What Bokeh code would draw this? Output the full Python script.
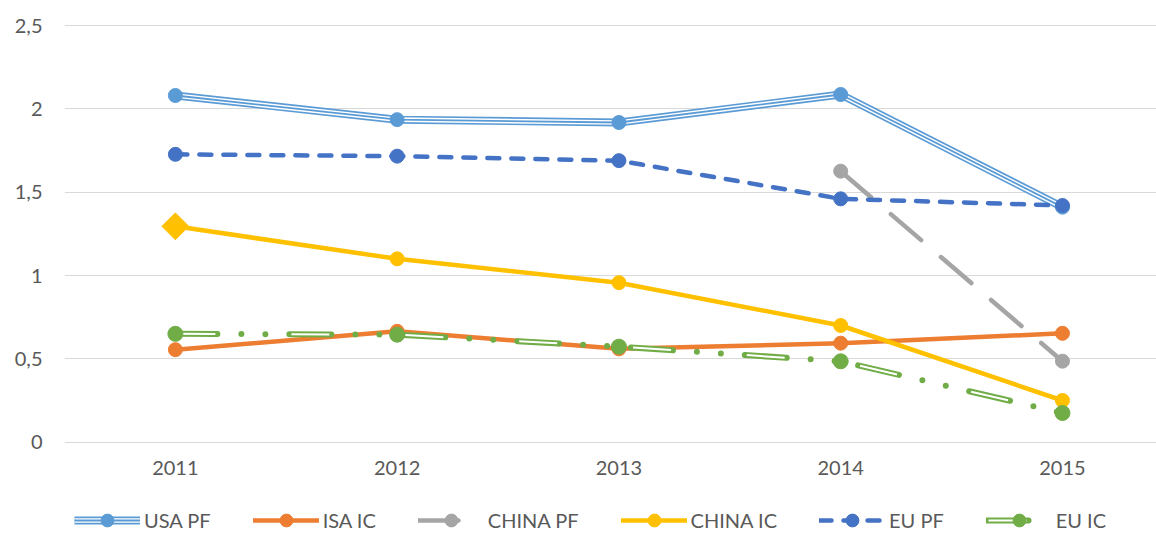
import numpy as np
from bokeh.plotting import figure
from bokeh.layouts import column
from bokeh.models import (ColumnDataSource, Range1d, CustomJSTickFormatter,
                          Legend, LegendItem)
from bokeh.embed import file_html
from bokeh.resources import INLINE

# ---- data ----
years = [2011, 2012, 2013, 2014, 2015]
usa_pf = [2.08, 1.935, 1.918, 2.086, 1.41]
isa_ic = [0.555, 0.665, 0.56, 0.594, 0.653]
china_pf = [np.nan, np.nan, np.nan, 1.626, 0.486]
china_ic = [1.295, 1.10, 0.957, 0.70, 0.25]
eu_pf = [1.727, 1.716, 1.689, 1.46, 1.42]
eu_ic = [0.65, 0.645, 0.573, 0.485, 0.175]
y_ticks = [0, 0.5, 1, 1.5, 2, 2.5]
labels = ["USA PF", "ISA IC", "CHINA PF", "CHINA IC", "EU PF", "EU IC"]

C_USA_PF = "#5B9BD5"
C_ISA_IC = "#ED7D31"
C_CHINA_PF = "#A5A5A5"
C_CHINA_IC = "#FFC000"
C_EU_PF = "#4472C4"
C_EU_IC = "#70AD47"
TXT = "#595959"
FONT = "Lato"

src = ColumnDataSource(dict(x=years, usa_pf=usa_pf, isa_ic=isa_ic, china_pf=china_pf,
                            china_ic=china_ic, eu_pf=eu_pf, eu_ic=eu_ic))
src_first = ColumnDataSource(dict(x=years[:1], y=china_ic[:1]))


def add_series(f, with_diamond=True):
    r = {}
    u1 = f.line('x', 'usa_pf', source=src, line_color=C_USA_PF, line_width=8, line_join='round')
    u2 = f.line('x', 'usa_pf', source=src, line_color="white", line_width=4.6, line_join='round')
    u3 = f.line('x', 'usa_pf', source=src, line_color=C_USA_PF, line_width=1.8, line_join='round')
    um = f.scatter('x', 'usa_pf', source=src, size=14, color=C_USA_PF)
    r[labels[0]] = [u1, u2, u3, um]

    i1 = f.line('x', 'isa_ic', source=src, line_color=C_ISA_IC, line_width=4.5,
                line_join='round', line_cap='round')
    im = f.scatter('x', 'isa_ic', source=src, size=14, color=C_ISA_IC)
    r[labels[1]] = [i1, im]

    c1 = f.line('x', 'china_pf', source=src, line_color=C_CHINA_PF, line_width=4.5,
                line_dash="40 26", line_cap='round', line_join='round')
    cm = f.scatter('x', 'china_pf', source=src, size=14, color=C_CHINA_PF)
    r[labels[2]] = [c1, cm]

    k1 = f.line('x', 'china_ic', source=src, line_color=C_CHINA_IC, line_width=4.5,
                line_join='round', line_cap='round')
    km = f.scatter('x', 'china_ic', source=src, size=14, color=C_CHINA_IC)
    r[labels[3]] = [k1, km]
    if with_diamond:
        f.scatter('x', 'y', source=src_first, marker="square", angle=np.pi / 4, size=19,
                  color=C_CHINA_IC)

    e1 = f.line('x', 'eu_pf', source=src, line_color=C_EU_PF, line_width=4.5,
                line_dash="12 12", line_cap='round', line_join='round')
    em = f.scatter('x', 'eu_pf', source=src, size=14, color=C_EU_PF)
    r[labels[4]] = [e1, em]

    g1 = f.line('x', 'eu_ic', source=src, line_color=C_EU_IC, line_width=6,
                line_dash="42 24 0 24 0 24", line_cap='round', line_join='round')
    g2 = f.line('x', 'eu_ic', source=src, line_color="white", line_width=2,
                line_dash="0 2 38 74", line_cap='butt', line_join='round')
    gm = f.scatter('x', 'eu_ic', source=src, size=15, color=C_EU_IC)
    r[labels[5]] = [g1, g2, gm]
    return r


# ---- main chart ----
p = figure(width=1156, height=504, output_backend="svg", toolbar_location=None,
           x_range=Range1d(2010.5, 2015.424), y_range=Range1d(-0.026, 2.566),
           min_border_left=64, min_border_right=0, min_border_top=14,
           min_border_bottom=58)
p.outline_line_color = None
p.background_fill_color = "white"
p.border_fill_color = "white"
p.xgrid.visible = False
p.ygrid.grid_line_color = "#D9D9D9"
p.ygrid.grid_line_width = 1

p.xaxis.ticker = years
p.yaxis.ticker = y_ticks
p.yaxis.formatter = CustomJSTickFormatter(code="return tick.toString().replace('.', ',');")
for ax in (p.xaxis[0], p.yaxis[0]):
    ax.axis_line_color = None
    ax.major_tick_line_color = None
    ax.minor_tick_line_color = None
    ax.major_tick_out = 0
    ax.major_tick_in = 0
    ax.major_label_text_font = FONT
    ax.major_label_text_font_size = "20px"
    ax.major_label_text_color = TXT
p.xaxis.major_label_standoff = 14
p.yaxis.major_label_standoff = 22

add_series(p)

# ---- legend strip (same series styles, data kept out of view) ----
q = figure(width=1156, height=32, output_backend="svg", toolbar_location=None,
           x_range=Range1d(0, 1), y_range=Range1d(0, 1),
           x_axis_type=None, y_axis_type=None,
           min_border_left=0, min_border_right=0, min_border_top=0, min_border_bottom=0)
q.outline_line_color = None
q.grid.visible = False
q.background_fill_color = "white"
q.border_fill_color = "white"
rq = add_series(q, with_diamond=False)

items = [LegendItem(label=lab, renderers=rq[lab]) for lab in labels]
legend = Legend(items=items, location=(10, 0), orientation="horizontal",
                border_line_color=None, background_fill_alpha=0,
                glyph_width=66, glyph_height=32, label_standoff=4, spacing=42,
                padding=0, margin=0,
                label_text_font=FONT, label_text_font_size="20px",
                label_text_color=TXT)
q.add_layout(legend)

layout = column(p, q, spacing=0)
open("out.html", "w").write(file_html(layout, INLINE))
